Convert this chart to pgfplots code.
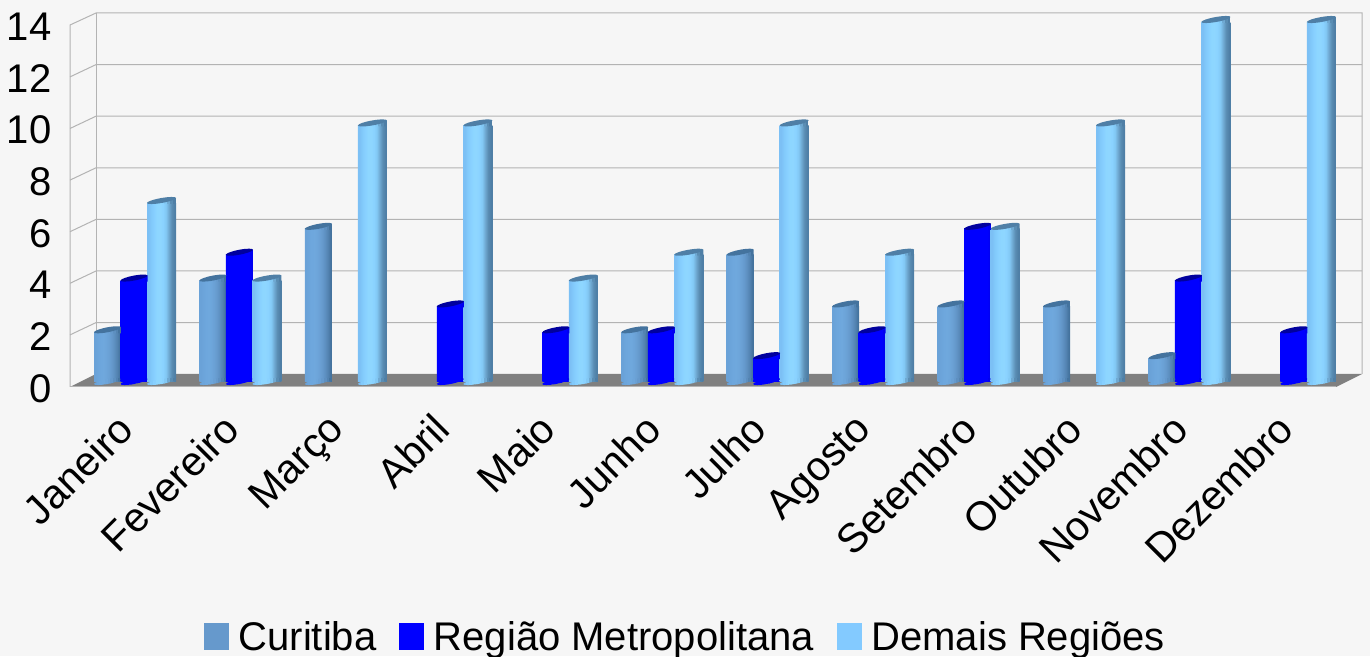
\documentclass[border=0pt]{standalone}
\usepackage{fontspec}
\setmainfont{Liberation Sans}
\usepackage{pgfplots}
\usepackage{pgfplotstable}
\pgfplotsset{compat=1.18}

\definecolor{pagebg}{HTML}{F6F6F6}
\definecolor{gridc}{HTML}{B3B3B3}
\definecolor{floorc}{HTML}{808080}
\definecolor{curleg}{HTML}{6699CC}
\definecolor{metleg}{HTML}{0000FF}
\definecolor{demleg}{HTML}{83CAFF}

% side colours of the cylinders, ten steps left to right
\newcommand{\steps}[2]{%
  \foreach \c [count=\i from 0] in {#2} {\xglobal\definecolor{#1\i}{HTML}{\c}}%
  \pgfdeclarehorizontalshading{#1shade}{100bp}{color(0bp)=(#10); color(27.5bp)=(#10); color(32.5bp)=(#11); color(37.5bp)=(#12); color(42.5bp)=(#13); color(47.5bp)=(#14); color(52.5bp)=(#15); color(57.5bp)=(#16); color(62.5bp)=(#17); color(67.5bp)=(#18); color(72.5bp)=(#19); color(100bp)=(#19)}%
}
\steps{cur}{6AA2D8,6CA5DB,6EA7DD,6FA8DD,6DA5DA,6AA0D4,6599CC,5D8FC0,5383B1,44739E}
\steps{met}{0000FF,0000FF,0000FF,0000FF,0000FF,0000FF,0000FF,0000FF,0000FF,0000F0}
\steps{dem}{7CC0F5,82CAFB,88D0FF,8DD6FF,8ED6FF,8AD2FF,82C8F4,6FA9D2,5A8DB3,4F7FA6}

% strips clipped to the shape, so marks follow the side colours
\newcommand{\strips}[2]{%
  \pgfusepathqclip
  \foreach \i in {0,...,9} {%
    \pgfmathsetmacro{\sa}{-#2+#2*\i/5}%
    \pgfmathsetmacro{\sb}{\sa+#2/5+0.3}%
    \pgfsetfillcolor{#1\i}%
    \pgfpathrectanglecorners{\pgfpoint{\sa pt}{-8pt}}{\pgfpoint{\sb pt}{8pt}}%
    \pgfusepathqfill}%
}
% #1 name, #2 half width, #3 colour of the top
\newcommand{\defcaps}[3]{%
  \pgfdeclareplotmark{bot#1}{\begin{pgfscope}%
    \pgfpathellipse{\pgfpointorigin}{\pgfpoint{#2pt}{2.5pt}}{\pgfpoint{0pt}{2.5pt}}%
    \strips{#1}{#2}\end{pgfscope}}%
  \pgfdeclareplotmark{neck#1}{\begin{pgfscope}%
    \pgfpathmoveto{\pgfpoint{-#2pt}{-2.5pt}}%
    \pgfpathlineto{\pgfpoint{#2pt}{2.5pt}}%
    \pgfpathlineto{\pgfpoint{#2pt}{-3.5pt}}%
    \pgfpathlineto{\pgfpoint{-#2pt}{-3.5pt}}%
    \pgfpathclose
    \strips{#1}{#2}\end{pgfscope}}%
  \pgfdeclareplotmark{top#1}{%
    \pgfsetfillcolor{#3}%
    \pgfpathellipse{\pgfpointorigin}{\pgfpoint{#2pt}{2.5pt}}{\pgfpoint{0pt}{2.5pt}}%
    \pgfusepathqfill}%
}
\definecolor{curtop}{HTML}{44739E}
\definecolor{mettop}{HTML}{00009E}
\definecolor{demtop}{HTML}{4F7FA6}
\defcaps{cur}{13.5}{curtop}
\defcaps{met}{13.5}{mettop}
\defcaps{dem}{14.5}{demtop}

\pgfplotstableread{
x y
0 2
1 4
2 6
5 2
6 5
7 3
8 3
9 3
10 1
}\curitiba
\pgfplotstableread{
x y
0 4
1 5
3 3
4 2
5 2
6 1
7 2
8 6
10 4
11 2
}\metropolitana
\pgfplotstableread{
x y
0 7
1 4
2 10
3 10
4 4
5 5
6 10
7 5
8 6
9 10
10 14
11 14
}\demais

% one series: bottom, side, top
\newcommand{\cyl}[4]{%
  \addplot[only marks, forget plot, xshift=#2pt, mark=bot#1] table[x=x,y expr=0] {#3};
  \pgfplotstablegetrowsof{#3}%
  \pgfmathtruncatemacro{\last}{\pgfplotsretval-1}%
  \pgfplotsinvokeforeach{0,...,\last}{%
    \pgfplotstablegetelem{##1}{x}\of{#3}\let\bx\pgfplotsretval
    \pgfplotstablegetelem{##1}{y}\of{#3}\let\by\pgfplotsretval
    \pgfmathsetmacro{\byy}{\by-0.1}%
    \edef\doit{\noexpand\addplot[ybar, bar width=#4pt, bar shift=#2pt, draw=none, shading=#1shade, forget plot] coordinates {(\bx,\byy)};}%
    \doit
  }%
  \addplot[only marks, forget plot, xshift=#2pt, mark=neck#1] table[x=x,y=y] {#3};
  \addplot[only marks, forget plot, xshift=#2pt, mark=top#1] table[x=x,y=y] {#3};
}

\begin{document}
\begin{tikzpicture}[x=1pt,y=1pt]
\fill[pagebg, use as bounding box] (0,0) rectangle (1370,656);
% walls and floor, in pixels from the top left
\begin{scope}[yscale=-1, yshift=-656pt]
  \fill[floorc] (70,387) -- (1336,387) -- (1362,374) -- (96,374) -- cycle;
  \draw[gridc, line width=1pt] (70,387) -- (70,25) -- (96,13) -- (1362,13) -- (1362,374);
  \draw[gridc, line width=1pt] (96,13) -- (96,374);
  \foreach \yy in {64.6, 116.2, 167.8, 219.4, 271, 322.6} {
    \draw[gridc, line width=1pt] (70,\yy+12.3) -- (96,\yy) -- (1362,\yy);
  }
  \draw[gridc, line width=1pt] (70,387) -- (1336,387);
\end{scope}
\begin{axis}[
    at={(70pt,274.5pt)}, anchor=south west,
    scale only axis, width=1266pt, height=362pt,
    xmin=-0.607, xmax=11.399, ymin=0, ymax=14,
    clip=false,
    axis line style={draw=none},
    major tick length=0pt,
    xtick={0,...,11},
    xticklabels={Janeiro,Fevereiro,Março,Abril,Maio,Junho,Julho,Agosto,Setembro,Outubro,Novembro,Dezembro},
    ytick={0,2,...,14},
    /pgf/number format/assume math mode=true,
    x tick label style={rotate=45, anchor=north east, font=\fontsize{41}{43}\selectfont, yshift=-4pt, xshift=-31pt},
    y tick label style={anchor=east, font=\fontsize{40}{42}\selectfont, yshift=-7pt, xshift=-15pt},
    legend columns=-1,
    legend style={at={(134pt,-273pt)}, anchor=south west, draw=none, fill=none, inner sep=0pt, font=\fontsize{40}{42}\selectfont,
      /tikz/every even column/.append style={column sep=21pt},
      /tikz/every odd column/.append style={column sep=8pt}},
]
\cyl{cur}{-26.5}{\curitiba}{27}
\cyl{met}{0}{\metropolitana}{27}
\cyl{dem}{27.5}{\demais}{29}
% legend
\addlegendimage{legend image code/.code={\fill[curleg] (0pt,-12pt) rectangle (24pt,14pt);}}
\addlegendentry{Curitiba}
\addlegendimage{legend image code/.code={\fill[metleg] (0pt,-12pt) rectangle (24pt,14pt);}}
\addlegendentry{Região Metropolitana}
\addlegendimage{legend image code/.code={\fill[demleg] (0pt,-12pt) rectangle (24pt,14pt);}}
\addlegendentry{Demais Regiões}
\end{axis}
\end{tikzpicture}
\end{document}
